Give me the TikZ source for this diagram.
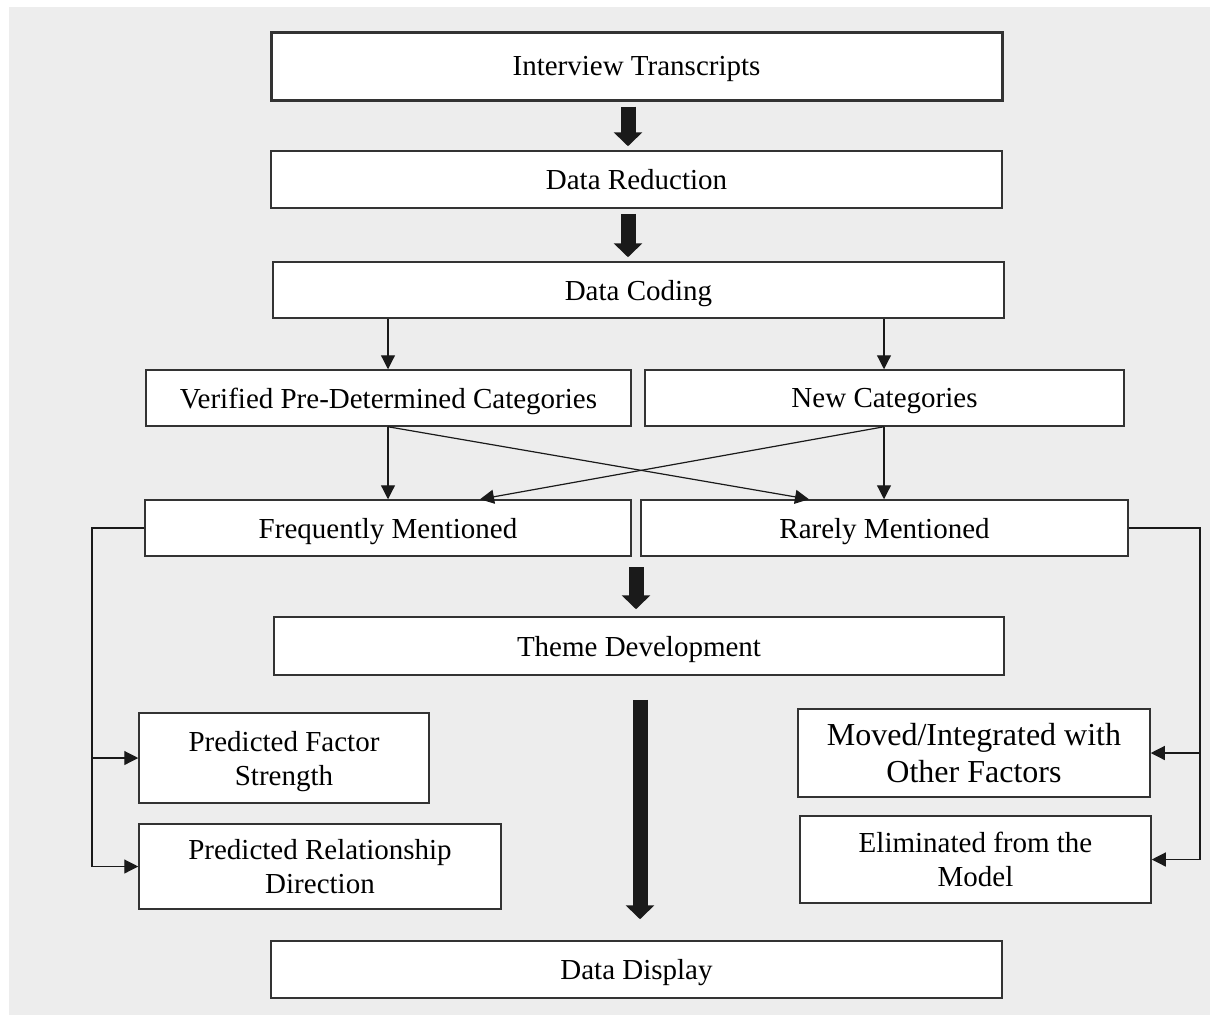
\documentclass[tikz,border=0pt]{standalone}
\usepackage{fontspec}
\setmainfont{Liberation Serif}
\usetikzlibrary{arrows.meta,calc}

\definecolor{panel}{HTML}{EDEDED}
\definecolor{ink}{HTML}{1A1A1A}
\definecolor{edge}{HTML}{333333}

\begin{document}
\begin{tikzpicture}[x=1pt,y=-1pt,
  box/.style={draw=edge, line width=1.5pt, fill=white, inner sep=0pt,
    text depth=0pt, align=center, font=\fontsize{29}{34}\selectfont},
  thinarrow/.style={draw=ink, line width=1.2pt,
    -{Triangle[length=14pt,width=14pt]}},
  link/.style={draw=ink, line width=1.2pt},
  bigarrow/.style={draw=ink, line width=15pt,
    -{Triangle[length=14pt,width=28pt]}}]

  % canvas and panel
  \useasboundingbox (0,0) rectangle (1210,1015);
  \fill[panel] (9,7) rectangle (1210,1015);

  % main column
  \node[box, line width=3pt, minimum width=731pt, minimum height=68pt] (it) at (636.5,66) {Interview Transcripts};
  \node[box, minimum width=731pt, minimum height=57pt] (dr) at (636.5,179.5) {Data Reduction};
  \node[box, minimum width=731pt, minimum height=56pt] (dc) at (638.5,290) {Data Coding};

  % categories
  \node[box, minimum width=485pt, minimum height=56pt] (vp) at (388.5,398) {Verified Pre-Determined Categories};
  \node[box, minimum width=479pt, minimum height=56pt] (nc) at (884.5,398) {New Categories};
  \node[box, minimum width=486pt, minimum height=56pt] (fm) at (388,528) {Frequently Mentioned};
  \node[box, minimum width=487pt, minimum height=56pt] (rm) at (884.5,528) {Rarely Mentioned};

  \node[box, minimum width=730pt, minimum height=58pt] (td) at (639,646) {Theme Development};

  % outcomes
  \node[box, minimum width=290pt, minimum height=90pt] (pf) at (284,758) {Predicted Factor\\Strength};
  \node[box, minimum width=362pt, minimum height=85pt] (pr) at (320,866.5) {Predicted Relationship\\Direction};
  \node[box, minimum width=352pt, minimum height=88pt,
        font=\fontsize{32}{37}\selectfont] (mi) at (974,753) {Moved/Integrated with\\Other Factors};
  \node[box, minimum width=351pt, minimum height=87pt] (el) at (975.5,859.5) {Eliminated from the\\Model};

  \node[box, minimum width=731pt, minimum height=57pt] (dd) at (636.5,969.5) {Data Display};

  % column guides for the thin connectors
  \coordinate (xl) at (388,0);
  \coordinate (xr) at (884,0);
  \coordinate (xcl) at (480,0);
  \coordinate (xcr) at (809,0);
  \coordinate (bl) at (92,0);
  \coordinate (br) at (1200,0);

  % heavy flow arrows
  \draw[bigarrow] ($(it.south)+(-8.5,5)$) -- ($(dr.north)+(-8.5,-4)$);
  \draw[bigarrow] ($(dr.south)+(-8.5,5)$) -- ($(dc.north)+(-10.5,-4)$);
  \draw[bigarrow] ($(td.north)+(-3,-49)$) -- ($(td.north)+(-3,-7)$);
  \draw[bigarrow] ($(td.south)+(1,24)$) -- ($(dd.north)+(3.5,-21)$);

  % coding splits into categories
  \draw[thinarrow] (dc.south -| xl) -- (vp.north -| xl);
  \draw[thinarrow] (dc.south -| xr) -- (nc.north -| xr);
  \draw[thinarrow] (vp.south -| xl) -- (fm.north -| xl);
  \draw[thinarrow] (nc.south -| xr) -- (rm.north -| xr);
  \draw[thinarrow] (vp.south -| xl) -- (rm.north -| xcr);
  \draw[thinarrow] (nc.south -| xr) -- (fm.north -| xcl);

  % side branches
  \draw[link] (fm.west) -- (fm.west -| bl) -- (pr.west -| bl);
  \draw[thinarrow] (pf.west -| bl) -- (pf.west);
  \draw[thinarrow] (pr.west -| bl) -- (pr.west);
  \draw[link] (rm.east) -- (rm.east -| br) -- (el.east -| br);
  \draw[thinarrow] (mi.east -| br) -- (mi.east);
  \draw[thinarrow] (el.east -| br) -- (el.east);
\end{tikzpicture}
\end{document}
